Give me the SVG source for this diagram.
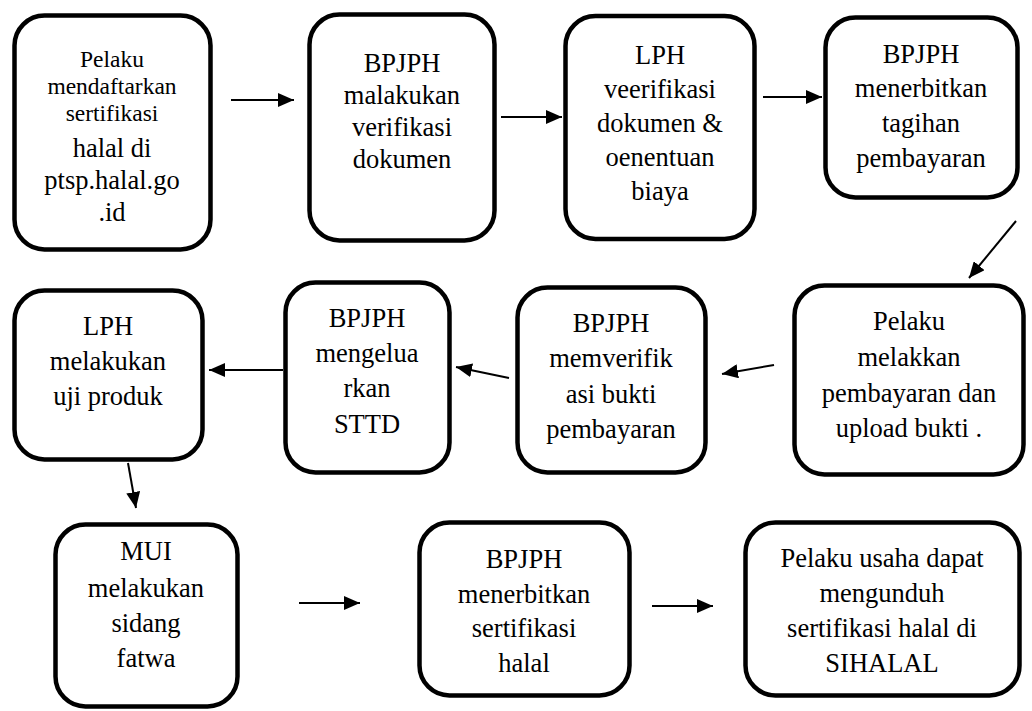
<svg xmlns="http://www.w3.org/2000/svg" width="1032" height="711" viewBox="0 0 1032 711">
<style>
.box{fill:#fff;stroke:#000;stroke-width:4.5}
text{font-family:"Liberation Serif","Times New Roman",serif;font-size:26.5px;fill:#000;text-anchor:middle}
text.s{font-size:23.5px}
.c{stroke:#000;stroke-width:2;fill:none;marker-end:url(#ah)}
</style>
<defs>
<marker id="ah" markerUnits="userSpaceOnUse" markerWidth="16" markerHeight="14" refX="16" refY="7" orient="auto">
<path d="M0,0 L16,7 L0,14 z" fill="#000"/>
</marker>
</defs>
<rect width="1032" height="711" fill="#fff"/>
<g id="n1"><rect class="box" x="14.5" y="15.5" width="196" height="234" rx="30"/>
<text class="s" x="112" y="67">Pelaku</text><text class="s" x="112" y="94">mendaftarkan</text><text class="s" x="112" y="121">sertifikasi</text>
<text x="112" y="157">halal di</text><text x="112" y="189">ptsp.halal.go</text><text x="112" y="221">.id</text></g>
<g id="n2"><rect class="box" x="309.5" y="14.5" width="185" height="226" rx="30"/>
<text x="402" y="72">BPJPH</text><text x="402" y="104">malakukan</text><text x="402" y="136">verifikasi</text><text x="402" y="168">dokumen</text></g>
<g id="n3"><rect class="box" x="565.5" y="16" width="189" height="223" rx="30"/>
<text x="660" y="64">LPH</text><text x="660" y="98">veerifikasi</text><text x="660" y="132">dokumen &amp;</text><text x="660" y="166">oenentuan</text><text x="660" y="200">biaya</text></g>
<g id="n4"><rect class="box" x="825.5" y="17.5" width="192" height="180" rx="30"/>
<text x="921" y="63">BPJPH</text><text x="921" y="97">menerbitkan</text><text x="921" y="132">tagihan</text><text x="921" y="167">pembayaran</text></g>
<g id="n5"><rect class="box" x="794.5" y="285.5" width="229" height="189" rx="30"/>
<text x="909" y="330">Pelaku</text><text x="909" y="366">melakkan</text><text x="909" y="402">pembayaran dan</text><text x="909" y="437">upload bukti .</text></g>
<g id="n6"><rect class="box" x="517.5" y="287.5" width="188" height="185" rx="30"/>
<text x="611" y="332">BPJPH</text><text x="611" y="367">memverifik</text><text x="611" y="403">asi bukti</text><text x="611" y="438">pembayaran</text></g>
<g id="n7"><rect class="box" x="285.5" y="282.5" width="164" height="190" rx="30"/>
<text x="367" y="327">BPJPH</text><text x="367" y="362">mengelua</text><text x="367" y="397">rkan</text><text x="367" y="433">STTD</text></g>
<g id="n8"><rect class="box" x="14.5" y="290.5" width="188" height="169" rx="30"/>
<text x="108" y="335">LPH</text><text x="108" y="370">melakukan</text><text x="108" y="405">uji produk</text></g>
<g id="n9"><rect class="box" x="55.5" y="524.5" width="182" height="182" rx="30"/>
<text x="146" y="560">MUI</text><text x="146" y="597">melakukan</text><text x="146" y="632">sidang</text><text x="146" y="667">fatwa</text></g>
<g id="n10"><rect class="box" x="419.5" y="522.5" width="210" height="173" rx="30"/>
<text x="524" y="568">BPJPH</text><text x="524" y="603">menerbitkan</text><text x="524" y="637">sertifikasi</text><text x="524" y="672">halal</text></g>
<g id="n11"><rect class="box" x="745.5" y="522.5" width="274" height="173" rx="30"/>
<text x="882" y="567">Pelaku usaha dapat</text><text x="882" y="602">mengunduh</text><text x="882" y="637">sertifikasi halal di</text><text x="882" y="672">SIHALAL</text></g>
<g id="connectors">
<line class="c" x1="231" y1="100" x2="294" y2="100"/>
<line class="c" x1="501" y1="117" x2="562" y2="117"/>
<line class="c" x1="763" y1="97" x2="822" y2="97"/>
<line class="c" x1="1016" y1="221" x2="969" y2="278"/>
<line class="c" x1="774" y1="365" x2="722" y2="374"/>
<line class="c" x1="509" y1="378" x2="456" y2="367"/>
<line class="c" x1="283" y1="370" x2="209" y2="370"/>
<line class="c" x1="128" y1="463" x2="136" y2="508"/>
<line class="c" x1="299" y1="603" x2="360" y2="603"/>
<line class="c" x1="652" y1="606" x2="713" y2="606"/>
</g>
</svg>
